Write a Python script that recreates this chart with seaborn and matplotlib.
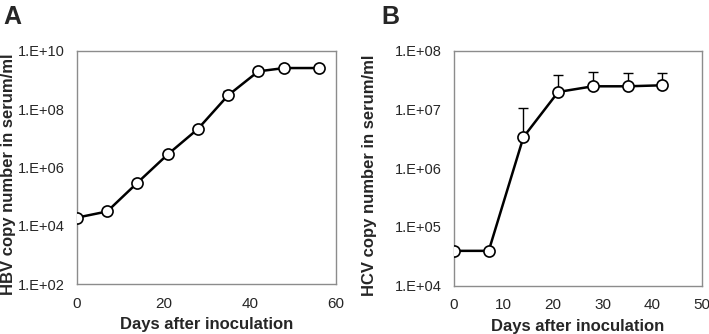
import numpy as np
import pandas as pd
import matplotlib
matplotlib.use("Agg")
import matplotlib.pyplot as plt
import seaborn as sns
from matplotlib.ticker import FixedLocator, FixedFormatter, NullLocator

sns.set_style("white")
plt.rcParams['font.family'] = ['Liberation Sans', 'DejaVu Sans']

# Panel A: HBV
hbv_days = [0, 7, 14, 21, 28, 35, 42, 48, 56]
hbv_mean = [1.9e4, 3.1e4, 3.0e5, 2.8e6, 2.1e7, 3.0e8, 2.0e9, 2.6e9, 2.6e9]
hbv_upper = [1.9e4, 3.1e4, 3.0e5, 2.8e6, 2.1e7, 4.3e8, 2.5e9, 2.6e9, 2.6e9]

# Panel B: HCV
hcv_days = [0, 7, 14, 21, 28, 35, 42]
hcv_mean = [3.9e4, 3.9e4, 3.4e6, 2.0e7, 2.5e7, 2.5e7, 2.6e7]
hcv_upper = [3.9e4, 3.9e4, 1.05e7, 3.9e7, 4.3e7, 4.2e7, 4.2e7]

hbv_yticks = [1e2, 1e4, 1e6, 1e8, 1e10]
hbv_ylabels = ["1.E+02", "1.E+04", "1.E+06", "1.E+08", "1.E+10"]
hcv_yticks = [1e4, 1e5, 1e6, 1e7, 1e8]
hcv_ylabels = ["1.E+04", "1.E+05", "1.E+06", "1.E+07", "1.E+08"]

fig = plt.figure(figsize=(7.09, 3.34), dpi=100)
axA = fig.add_axes([77/709, 1-284/334, 259/709, 233/334])
axB = fig.add_axes([454/709, 1-285.5/334, 248/709, 234.5/334])

spine_col = "#8c8c8c"

def draw(ax, days, mean, upper, yticks, ylabels, xmax, xstep, ylabel, ylab_x_px):
    mean = np.array(mean); upper = np.array(upper)
    ax.errorbar(days, mean, yerr=[np.zeros_like(mean), upper - mean], fmt='none',
                ecolor='black', elinewidth=1.0, capsize=3.5, capthick=1.0, zorder=2)
    df = pd.DataFrame({"day": days, "val": mean})
    sns.lineplot(data=df, x="day", y="val", ax=ax, color="black", linewidth=1.8,
                 marker="o", markersize=8, markerfacecolor="white",
                 markeredgecolor="black", markeredgewidth=1.2, zorder=3)
    ax.set_yscale("log")
    ax.set_ylim(yticks[0], yticks[-1])
    ax.set_xlim(0, xmax)
    ax.yaxis.set_major_locator(FixedLocator(yticks))
    ax.yaxis.set_major_formatter(FixedFormatter(ylabels))
    ax.yaxis.set_minor_locator(NullLocator())
    ax.set_xticks(np.arange(0, xmax + 1, xstep))
    for s in ax.spines.values():
        s.set_color(spine_col)
        s.set_linewidth(1.0)
        s.set_visible(True)
    ax.tick_params(axis='x', direction='in', length=3, color=spine_col,
                   labelsize=11, pad=9)
    ax.tick_params(axis='y', direction='in', length=0, labelsize=10.5, pad=9)
    ax.set_xlabel("Days after inoculation", fontsize=12, fontweight='bold', labelpad=5)
    ax.set_ylabel(ylabel, fontsize=12, fontweight='bold')
    # anchor (right edge of the rotated label) at a given figure-pixel x
    bbox = ax.get_position()
    ax_left_px = bbox.x0 * 709
    ax_w_px = bbox.width * 709
    ax.yaxis.set_label_coords((ylab_x_px - ax_left_px) / ax_w_px, 0.47)

draw(axA, hbv_days, hbv_mean, hbv_upper, hbv_yticks, hbv_ylabels, 60, 20,
     "HBV copy number in serum/ml", 16)
draw(axB, hcv_days, hcv_mean, hcv_upper, hcv_yticks, hcv_ylabels, 50, 10,
     "HCV copy number in serum/ml", 377)

fig.text(3/709, 1-5/334, "A", fontsize=18, fontweight='bold', va='top', ha='left')
fig.text(381/709, 1-5/334, "B", fontsize=18, fontweight='bold', va='top', ha='left')

fig.savefig("out.png", dpi=100)
